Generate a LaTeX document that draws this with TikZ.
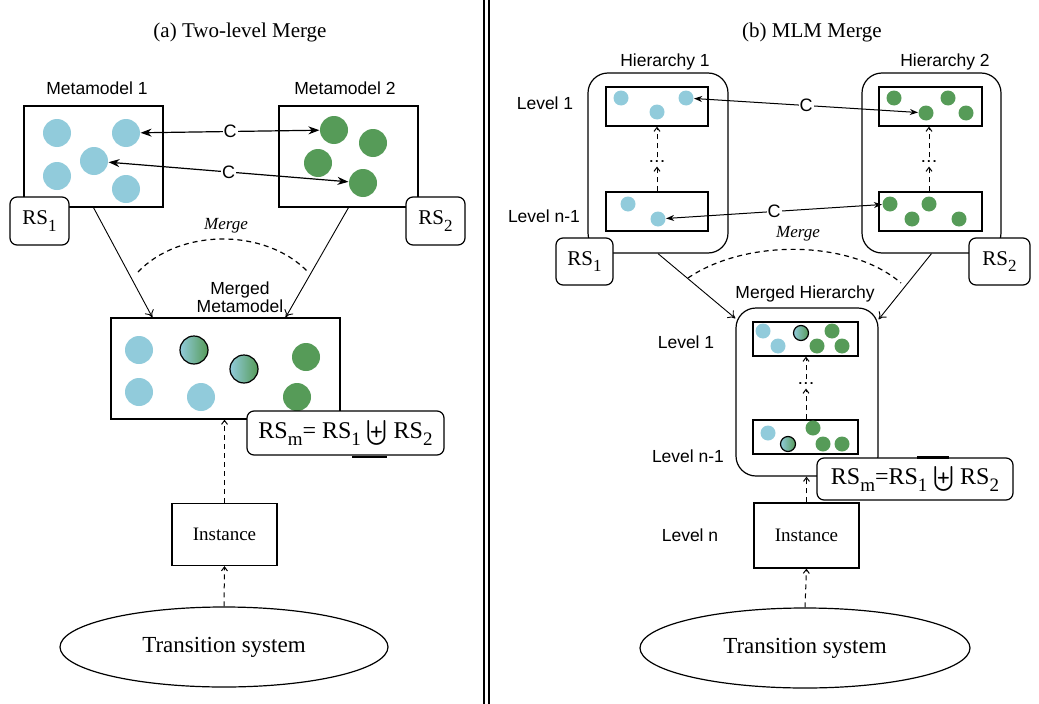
\documentclass[tikz,border=0pt]{standalone}
\usepackage{exscale}
\usepackage{fontspec}
\setmainfont{Liberation Serif}
\setsansfont{Liberation Sans}
\usetikzlibrary{arrows.meta,shapes.geometric,calc,positioning}
\definecolor{lblue}{RGB}{145,203,219}
\definecolor{mgreen}{RGB}{86,155,88}
\newcommand{\lsub}[2]{\raisebox{-0.3em}{\fontsize{#1}{#1}\selectfont #2}}

\begin{document}
\begin{tikzpicture}[x=1pt,y=-1pt,line width=1.2pt,
    box/.style={draw,inner sep=0pt},
    hbox/.style={draw,rounded corners=20pt,inner sep=0pt},
    rsbox/.style={draw,fill=white,rounded corners=7pt,inner sep=0pt,font=\fontsize{21}{24}\selectfont},
    lbl/.style={font=\sffamily\fontsize{17.5}{18.5}\selectfont},
    ttl/.style={font=\fontsize{21}{24}\selectfont},
    cl/.style={fill=white,inner sep=1pt,font=\sffamily\fontsize{18}{20}\selectfont},
    dts/.style={inner sep=3pt,font=\sffamily\bfseries\fontsize{13}{13}\selectfont},
    bdot/.style={circle,fill=lblue,inner sep=0pt,minimum size=#1},
    bdot/.default=28pt,
    gdot/.style={circle,fill=mgreen,inner sep=0pt,minimum size=#1},
    gdot/.default=28pt,
    mdot/.style={circle,draw,line width=1.2pt,left color=lblue,right color=mgreen,inner sep=0pt,minimum size=#1},
    mdot/.default=28pt,
    carrow/.style={{Stealth[length=11pt,width=8pt]}-{Stealth[length=11pt,width=8pt]}},
    carrows/.style={{Stealth[length=8pt,width=6pt]}-{Stealth[length=8pt,width=6pt]},line width=1pt},
    marrow/.style={-{To[length=7pt,width=10pt]},line width=0.9pt},
    darrow/.style={-{Straight Barb[length=4pt,width=6pt]},line width=1pt,dash pattern=on 5pt off 4pt}]
    \useasboundingbox (0,0) rectangle (1039,704);

    % (a) two-level
    \node[ttl] (ta) at (240,32) {(a) Two-level Merge};
    \node[lbl] (mml1) at (97,88) {Metamodel 1};
    \node[lbl] (mml2) at (345,88) {Metamodel 2};
    \node[box,minimum width=139pt,minimum height=101pt] (mm1) at (93.5,156.5) {};
    \node[box,minimum width=139pt,minimum height=101pt] (mm2) at (348.5,156.5) {};

    \node[bdot] (a1) at (57,133) {};
    \node[bdot] (a2) at (126,133) {};
    \node[bdot] (a3) at (94,161) {};
    \node[bdot] (a4) at (57,176) {};
    \node[bdot] (a5) at (126,189) {};
    \node[gdot] (b1) at (334,130) {};
    \node[gdot] (b2) at (373,143) {};
    \node[gdot] (b3) at (318,163) {};
    \node[gdot] (b4) at (363,183) {};

    \draw[carrow] (a2) -- node[cl]{C} (b1);
    \draw[carrow] (a3) -- node[cl]{C} (b4);

    \node[rsbox,minimum width=59pt,minimum height=48pt] (rs1) at (39.5,221) {RS\lsub{17}{1}};
    \node[rsbox,minimum width=59pt,minimum height=48pt] (rs2) at (435.5,221) {RS\lsub{17}{2}};

    \draw[dash pattern=on 5pt off 4pt] (138,272) .. controls (180,228) and (266,228) .. (308,272);
    \node[font=\itshape\fontsize{17}{20}\selectfont] (mg1) at (226,226) {Merge};

    \node[lbl,align=center] (mml) at (240,297) {Merged\\Metamodel};
    \node[box,minimum width=229pt,minimum height=101pt] (mm) at (225.5,368.5) {};
    \node[bdot] (m1) at (139,350) {};
    \node[bdot] (m2) at (139,392) {};
    \node[mdot] (m3) at (194,350) {};
    \node[mdot] (m4) at (244,369) {};
    \node[gdot] (m5) at (306,357) {};
    \node[bdot] (m6) at (201,397) {};
    \node[gdot] (m7) at (297,397) {};

    \draw[marrow] (mm1.south) -- ($(mm.north west)+(42,0)$);
    \draw[marrow] (mm2.south) -- ($(mm.north east)+(-55,0)$);

    \node[rsbox,minimum width=197pt,minimum height=44pt,font=\fontsize{24}{26}\selectfont] (rsm1) at (345.5,433) {RS\lsub{19}{m}= RS\lsub{19}{1} $\textstyle\biguplus$ RS\lsub{19}{2}};
    \draw[line width=2.2pt] ($(rsm1.south west)+(106,1)$) -- +(35,0);

    \node[box,minimum width=105pt,minimum height=62pt,font=\fontsize{19}{22}\selectfont] (in1) at (224.5,534.5) {Instance};
    \node[draw,ellipse,minimum width=328pt,minimum height=80pt,inner sep=0pt,font=\fontsize{23}{26}\selectfont] (ts1) at (224,647) {Transition system};
    \draw[darrow] (in1.north) -- (in1.north |- mm.south);
    \draw[darrow] (ts1.north) -- (in1.south);

    \draw (484,0) -- (484,704);
    \draw (489,0) -- (489,704);

    % (b) MLM
    \node[ttl] (tb) at (812,32) {(b) MLM Merge};
    \node[lbl] (hl1) at (665,62) {Hierarchy 1};
    \node[lbl] (hl2) at (945,62) {Hierarchy 2};
    \node[hbox,minimum width=140pt,minimum height=180pt] (h1) at (658,163) {};
    \node[hbox,minimum width=139pt,minimum height=180pt] (h2) at (931.5,163) {};
    \node[box,minimum width=102pt,minimum height=39pt] (h1t) at (657,106.5) {};
    \node[box,minimum width=102pt,minimum height=39pt] (h1b) at (657,211.5) {};
    \node[box,minimum width=103pt,minimum height=39pt] (h2t) at (930.5,106.5) {};
    \node[box,minimum width=103pt,minimum height=39pt] (h2b) at (930.5,211.5) {};

    \node[bdot=15pt] (c1) at (621,98) {};
    \node[bdot=15pt] (c2) at (657,112) {};
    \node[bdot=15pt] (c3) at (686,98) {};
    \node[bdot=15pt] (c4) at (628,204) {};
    \node[bdot=15pt] (c5) at (658,219) {};
    \node[gdot=15pt] (d1) at (894,98) {};
    \node[gdot=15pt] (d2) at (948,98) {};
    \node[gdot=15pt] (d3) at (926,113) {};
    \node[gdot=15pt] (d4) at (966,113) {};
    \node[gdot=15pt] (e1) at (890,204) {};
    \node[gdot=15pt] (e2) at (929,204) {};
    \node[gdot=15pt] (e3) at (912,219) {};
    \node[gdot=15pt] (e4) at (959,219) {};

    \node[dts] (dt1) at (657,162) {.\hspace{2pt}.\hspace{2pt}.};
    \node[dts] (dt2) at (929,162) {.\hspace{2pt}.\hspace{2pt}.};
    \draw[darrow] (h1b.north) -- (dt1.south);
    \draw[darrow] (dt1.north) -- (h1t.south);
    \draw[darrow] (e2 |- h2b.north) -- (dt2.south);
    \draw[darrow] (dt2.north) -- (dt2.north |- h2t.south);

    \draw[carrows] (c3) -- node[cl]{C} (d3);
    \draw[carrows] (c5) -- node[cl]{C} (e1);

    \node[lbl] (lv1) at (545,103) {Level 1};
    \node[lbl] (lv2) at (544,216) {Level n-1};

    \node[rsbox,minimum width=57pt,minimum height=47pt] (rs3) at (584.5,261.5) {RS\lsub{17}{1}};
    \node[rsbox,minimum width=61pt,minimum height=47pt] (rs4) at (999.5,261.5) {RS\lsub{17}{2}};

    \draw[dash pattern=on 5pt off 4pt] (688,278) .. controls (745,239) and (850,239) .. (901,283);
    \node[font=\itshape\fontsize{17}{20}\selectfont] (mg2) at (798,234) {Merge};

    \node[lbl] (mhl) at (805,294) {Merged Hierarchy};
    \node[hbox,minimum width=142pt,minimum height=168pt] (mh) at (807,392) {};
    \node[box,minimum width=105pt,minimum height=34pt] (mht) at (805.5,339) {};
    \node[box,minimum width=105pt,minimum height=34pt] (mhb) at (805.5,437) {};

    \node[bdot=15pt] (f1) at (763,331) {};
    \node[bdot=15pt] (f2) at (778,346) {};
    \node[mdot=15pt] (f3) at (801,333) {};
    \node[gdot=15pt] (f4) at (832,331) {};
    \node[gdot=15pt] (f5) at (817,346) {};
    \node[gdot=15pt] (f6) at (842,346) {};
    \node[bdot=15pt] (k1) at (768,433) {};
    \node[mdot=15pt] (k2) at (788,444) {};
    \node[gdot=15pt] (k3) at (813,428) {};
    \node[gdot=15pt] (k4) at (823,444) {};
    \node[gdot=15pt] (k5) at (842,444) {};

    \node[dts] (dt3) at (806,384) {.\hspace{2pt}.\hspace{2pt}.};
    \draw[darrow] (dt3 |- mhb.north) -- (dt3.south);
    \draw[darrow] (dt3.north) -- (dt3.north |- mht.south);

    \draw[marrow] (h1.south) -- ($(mh.north west)+(0,11)$);
    \draw[marrow] (h2.south) -- ($(mh.north east)+(0,12)$);

    \node[lbl] (lv3) at (686,342) {Level 1};
    \node[lbl] (lv4) at (688,456) {Level n-1};
    \node[lbl] (lv5) at (690,535) {Level n};

    \node[rsbox,minimum width=196pt,minimum height=42pt,font=\fontsize{24}{26}\selectfont] (rsm2) at (915,479) {RS\lsub{19}{m}=RS\lsub{19}{1} $\textstyle\biguplus$ RS\lsub{19}{2}};
    \draw[line width=2.2pt] ($(rsm2.north west)+(101,0)$) -- +(32,0);

    \node[box,minimum width=105pt,minimum height=65pt,font=\fontsize{19}{22}\selectfont] (in2) at (806.5,535.5) {Instance};
    \node[draw,ellipse,minimum width=330pt,minimum height=80pt,inner sep=0pt,font=\fontsize{23}{26}\selectfont] (ts2) at (805,648) {Transition system};
    \draw[darrow] (in2.north) -- (in2.north |- mh.south);
    \draw[darrow] (ts2.north) -- (in2.south);
\end{tikzpicture}
\end{document}
